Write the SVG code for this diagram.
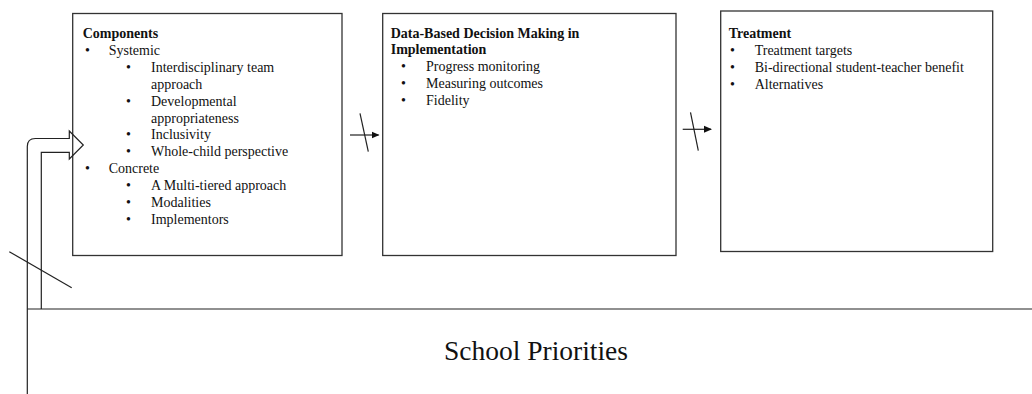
<svg xmlns="http://www.w3.org/2000/svg" width="1032" height="394" viewBox="0 0 1032 394">
<defs>
<style>
.box{fill:none;stroke:#333;stroke-width:1.3}
.ln{fill:none;stroke:#222;stroke-width:1.2}
text{font-family:"Liberation Serif","Times New Roman",serif;font-size:14px;fill:#111}
.b{font-weight:bold}
</style>
<marker id="ah" markerWidth="8" markerHeight="8" refX="7" refY="4" orient="auto" markerUnits="userSpaceOnUse">
<path d="M0,0.5 L8,4 L0,7.5 Z" fill="#111"/>
</marker>
</defs>
<rect width="1032" height="394" fill="#fff"/>
<g id="school-priorities">
<line class="ln" x1="27.3" y1="309" x2="1032" y2="309"/>
<text x="536" y="360" text-anchor="middle" style="font-size:27.5px">School Priorities</text>
</g>
<g id="components">
<rect class="box" x="72.7" y="13.5" width="269.3" height="242"/>
<text class="b" x="82.7" y="38">Components</text>
<text x="85" y="54.9">•</text><text x="108.7" y="54.9">Systemic</text>
<text x="126" y="71.8">•</text><text x="151" y="71.8">Interdisciplinary team</text>
<text x="151" y="88.7">approach</text>
<text x="126" y="105.6">•</text><text x="151" y="105.6">Developmental</text>
<text x="151" y="122.5">appropriateness</text>
<text x="126" y="139.4">•</text><text x="151" y="139.4">Inclusivity</text>
<text x="126" y="156.3">•</text><text x="151" y="156.3">Whole-child perspective</text>
<text x="85" y="173.2">•</text><text x="108.7" y="173.2">Concrete</text>
<text x="126" y="190.1">•</text><text x="151" y="190.1">A Multi-tiered approach</text>
<text x="126" y="207">•</text><text x="151" y="207">Modalities</text>
<text x="126" y="223.9">•</text><text x="151" y="223.9">Implementors</text>
</g>
<g id="data-based">
<rect class="box" x="382.7" y="13.5" width="293.3" height="242"/>
<text class="b" x="390.7" y="37.5">Data-Based Decision Making in</text>
<text class="b" x="390.7" y="54.4">Implementation</text>
<text x="401" y="71.3">•</text><text x="426" y="71.3">Progress monitoring</text>
<text x="401" y="88.2">•</text><text x="426" y="88.2">Measuring outcomes</text>
<text x="401" y="105.1">•</text><text x="426" y="105.1">Fidelity</text>
</g>
<g id="treatment">
<rect class="box" x="720.7" y="11" width="272" height="240.5"/>
<text class="b" x="728.7" y="38">Treatment</text>
<text x="730" y="54.9">•</text><text x="754.7" y="54.9">Treatment targets</text>
<text x="730" y="71.8">•</text><text x="754.7" y="71.8">Bi-directional student-teacher benefit</text>
<text x="730" y="88.7">•</text><text x="754.7" y="88.7">Alternatives</text>
</g>
<g id="connectors">
<path class="ln" d="M27.3,394 L27.3,146.5 Q27.3,138.5 35.3,138.5 L69.3,138.5 L69.3,131 L83.3,145 L69.3,159 L69.3,152.3 L41.3,152.3 L41.3,309"/>
<line class="ln" x1="9.3" y1="251.7" x2="71.7" y2="287.7"/>
<line class="ln" x1="350" y1="135" x2="378.5" y2="135" marker-end="url(#ah)"/>
<line class="ln" x1="360" y1="113.3" x2="368.3" y2="151.7"/>
<line class="ln" x1="682.7" y1="129.3" x2="711" y2="129.3" marker-end="url(#ah)"/>
<line class="ln" x1="690.5" y1="112.3" x2="698.3" y2="150.7"/>
</g>
</svg>
